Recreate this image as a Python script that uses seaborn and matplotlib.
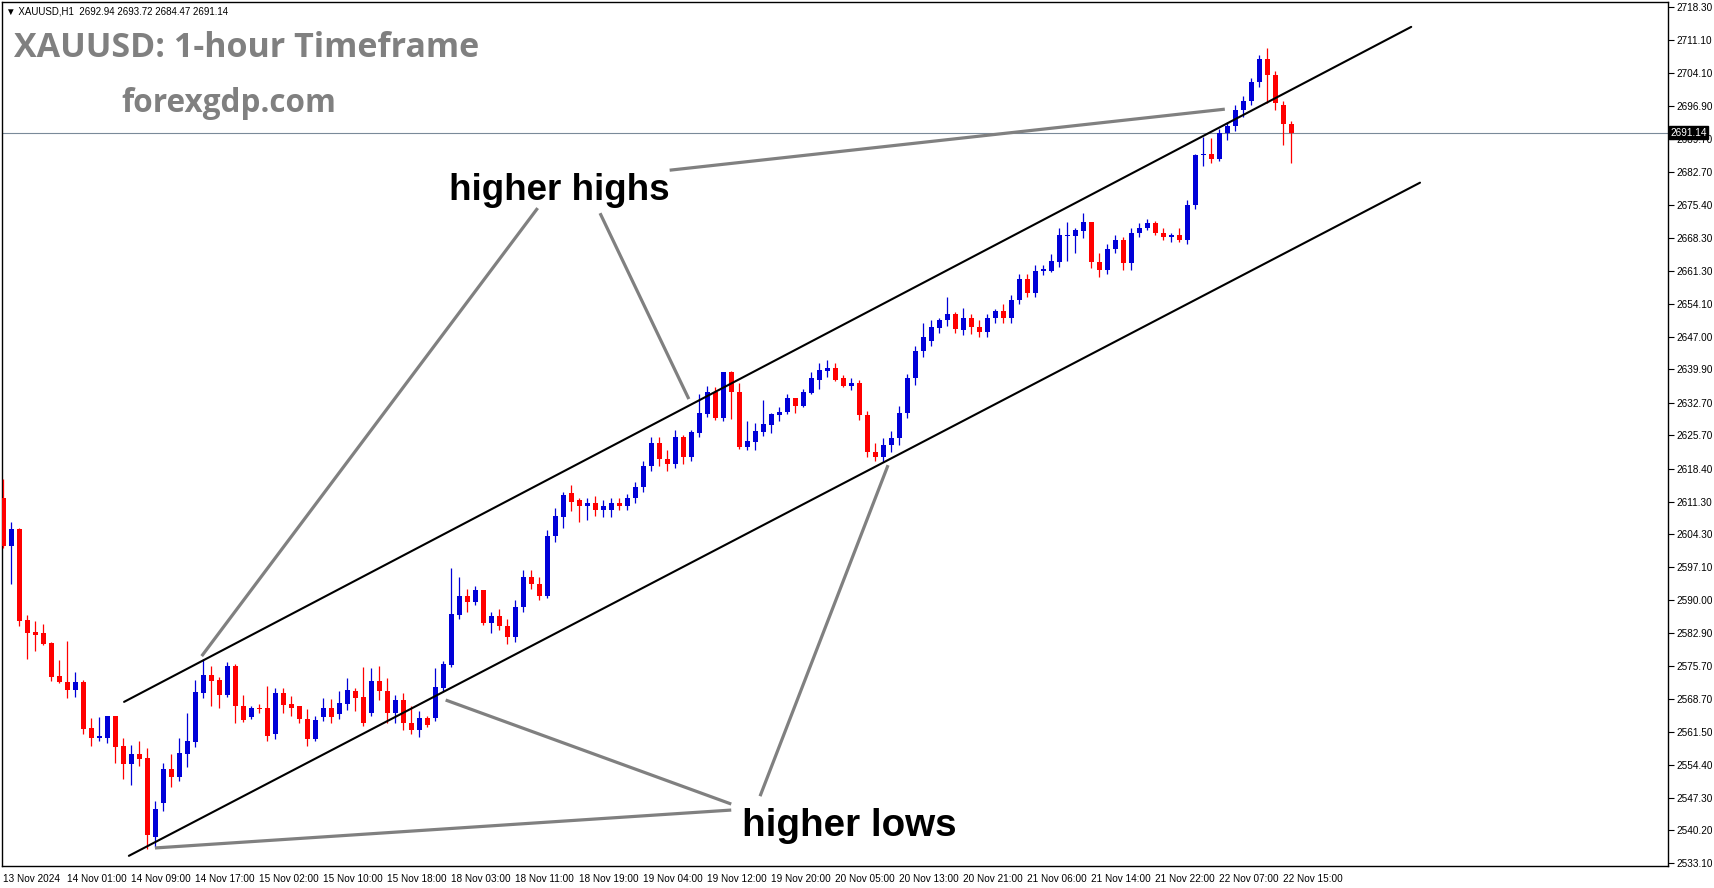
import numpy as np
import pandas as pd
import matplotlib
matplotlib.use("Agg")
import matplotlib.pyplot as plt
import matplotlib.transforms as mtransforms
import seaborn as sns

# ---------------- data (XAUUSD H1 candles) ----------------
opens = [
    2612.2, 2601.8, 2605.3, 2585.8, 2583.2, 2582.8, 2580.8, 2573.7, 2572.4, 2570.6,
    2572.4, 2562.4, 2560.2, 2560.2, 2565.0, 2558.5, 2554.6, 2556.8, 2555.9, 2538.8,
    2546.2, 2553.5, 2551.8, 2556.8, 2559.4, 2570.0, 2573.9, 2572.8, 2569.5, 2575.8,
    2567.2, 2564.8, 2566.7, 2566.7, 2561.1, 2570.0, 2567.6, 2567.0, 2564.3, 2560.0,
    2564.8, 2566.7, 2565.3, 2567.6, 2570.4, 2569.1, 2565.7, 2572.6, 2570.3, 2565.5,
    2568.5, 2563.5, 2562.0, 2564.5, 2564.6, 2571.1, 2576.0, 2586.7, 2591.0, 2589.7,
    2592.1, 2585.0, 2586.5, 2584.5, 2582.0, 2588.5, 2595.0, 2593.5, 2591.0, 2603.8,
    2607.9, 2613.1, 2611.6, 2610.3, 2611.1, 2609.6, 2609.6, 2611.0, 2610.3, 2612.0,
    2614.5, 2619.0, 2624.0, 2620.5, 2619.5, 2625.2, 2621.0, 2626.1, 2630.2, 2635.1,
    2629.3, 2639.3, 2635.1, 2623.2, 2624.3, 2626.3, 2627.8, 2630.0, 2630.6, 2633.8,
    2631.9, 2634.9, 2637.7, 2639.5, 2640.3, 2638.0, 2636.4, 2637.0, 2630.0, 2622.0,
    2621.0, 2623.5, 2625.0, 2630.5, 2638.0, 2644.0, 2646.0, 2648.8, 2650.5, 2651.8,
    2648.4, 2651.0, 2649.0, 2648.0, 2651.0, 2652.5, 2651.0, 2655.0, 2659.5, 2656.5,
    2661.3, 2661.3, 2663.1, 2668.7, 2668.7, 2669.8, 2671.7, 2663.1, 2661.5, 2666.0,
    2668.0, 2663.0, 2669.5, 2670.5, 2671.5, 2669.5, 2668.5, 2669.0, 2668.0, 2675.5,
    2686.2, 2686.5, 2685.5, 2691.0, 2692.5, 2696.0, 2698.0, 2702.0, 2707.0, 2703.5,
    2697.0, 2692.94,
]
highs = [
    2616.3, 2606.8, 2605.7, 2586.7, 2585.4, 2584.9, 2581.0, 2577.1, 2581.2, 2574.5,
    2572.8, 2564.6, 2564.8, 2565.0, 2565.0, 2560.2, 2558.7, 2559.6, 2558.1, 2546.6,
    2554.8, 2556.8, 2560.2, 2565.7, 2572.8, 2577.3, 2575.8, 2573.4, 2576.7, 2576.3,
    2569.5, 2567.2, 2567.6, 2571.5, 2570.9, 2571.1, 2569.3, 2567.2, 2566.5, 2565.0,
    2568.9, 2568.7, 2570.4, 2573.2, 2570.9, 2575.6, 2575.4, 2575.8, 2573.2, 2569.5,
    2570.0, 2567.0, 2566.0, 2565.0, 2575.4, 2576.9, 2597.0, 2595.1, 2592.5, 2593.0,
    2592.3, 2587.5, 2588.0, 2586.0, 2590.0, 2596.5, 2596.5, 2595.0, 2605.1, 2610.0,
    2613.3, 2615.0, 2612.0, 2612.0, 2612.6, 2611.6, 2612.0, 2612.0, 2613.0, 2615.5,
    2620.0, 2625.3, 2625.2, 2622.5, 2626.7, 2625.8, 2626.9, 2634.5, 2636.4, 2636.0,
    2639.3, 2639.5, 2636.9, 2628.7, 2628.4, 2633.2, 2630.4, 2631.7, 2634.7, 2633.8,
    2635.6, 2639.3, 2641.4, 2641.9, 2641.2, 2638.8, 2638.0, 2637.6, 2631.0, 2624.0,
    2625.0, 2626.5, 2632.0, 2639.0, 2645.0, 2650.0, 2650.5, 2651.0, 2655.5, 2652.3,
    2653.1, 2652.0, 2650.5, 2652.0, 2653.0, 2654.0, 2656.0, 2660.5, 2660.5, 2662.5,
    2662.4, 2664.8, 2670.4, 2671.7, 2670.4, 2673.7, 2671.7, 2665.0, 2667.0, 2669.0,
    2668.5, 2670.5, 2671.5, 2672.5, 2672.0, 2670.5, 2669.5, 2670.5, 2676.5, 2686.5,
    2690.1, 2690.0, 2692.0, 2693.5, 2697.0, 2699.0, 2703.0, 2708.0, 2709.5, 2704.5,
    2698.0, 2693.72,
]
lows = [
    2601.2, 2593.4, 2584.5, 2577.3, 2579.1, 2580.2, 2572.6, 2572.1, 2568.9, 2569.1,
    2561.1, 2558.5, 2559.6, 2559.0, 2554.8, 2551.4, 2550.1, 2554.2, 2536.2, 2536.6,
    2544.4, 2549.6, 2550.9, 2554.0, 2558.3, 2568.9, 2567.2, 2566.7, 2569.0, 2563.5,
    2563.7, 2564.3, 2565.7, 2559.6, 2560.0, 2565.7, 2565.0, 2563.5, 2558.5, 2559.5,
    2563.9, 2563.5, 2564.3, 2566.3, 2566.1, 2562.8, 2565.0, 2568.5, 2563.5, 2563.5,
    2562.0, 2561.0, 2560.5, 2562.5, 2563.8, 2570.4, 2575.5, 2586.0, 2587.5, 2589.0,
    2584.7, 2583.0, 2583.5, 2580.5, 2581.0, 2587.5, 2592.5, 2590.0, 2590.5, 2602.5,
    2605.7, 2609.2, 2607.0, 2607.4, 2608.1, 2607.9, 2608.0, 2609.5, 2609.5, 2611.0,
    2613.5, 2618.0, 2619.0, 2618.0, 2618.5, 2619.5, 2620.0, 2625.2, 2629.7, 2628.9,
    2628.7, 2629.1, 2622.6, 2622.4, 2622.4, 2625.4, 2626.1, 2628.7, 2630.2, 2630.4,
    2631.7, 2634.5, 2635.6, 2638.2, 2637.5, 2636.0, 2635.5, 2628.9, 2621.0, 2620.0,
    2619.8, 2622.0, 2623.5, 2629.5, 2636.5, 2642.5, 2645.0, 2647.7, 2649.2, 2647.7,
    2647.3, 2647.5, 2647.0, 2647.0, 2650.0, 2650.0, 2650.0, 2654.0, 2655.5, 2655.5,
    2660.3, 2660.9, 2662.0, 2663.3, 2665.0, 2668.3, 2661.8, 2660.0, 2660.5, 2665.0,
    2661.5, 2661.5, 2668.5, 2670.0, 2669.0, 2668.0, 2667.5, 2667.5, 2667.0, 2674.5,
    2684.0, 2684.5, 2685.0, 2689.5, 2691.5, 2694.5, 2697.0, 2701.0, 2697.5, 2696.0,
    2688.5, 2684.47,
]
closes = [
    2601.8, 2605.3, 2585.6, 2583.0, 2582.5, 2580.6, 2573.4, 2572.4, 2570.6, 2572.4,
    2562.2, 2560.2, 2560.7, 2565.0, 2558.3, 2554.6, 2556.8, 2555.7, 2539.2, 2544.9,
    2553.5, 2551.8, 2557.0, 2559.6, 2570.2, 2573.9, 2572.6, 2569.5, 2575.8, 2567.0,
    2564.1, 2566.7, 2566.5, 2560.7, 2570.0, 2567.4, 2566.7, 2564.3, 2560.0, 2564.0,
    2566.7, 2564.8, 2567.8, 2570.6, 2568.9, 2563.5, 2572.6, 2570.3, 2565.5, 2568.5,
    2563.5, 2562.0, 2564.5, 2563.0, 2571.3, 2576.3, 2586.9, 2591.0, 2589.7, 2592.1,
    2585.1, 2586.5, 2584.5, 2582.0, 2588.5, 2595.0, 2593.5, 2591.0, 2603.8, 2608.1,
    2612.8, 2611.3, 2610.3, 2611.1, 2609.6, 2610.3, 2611.0, 2610.3, 2612.0, 2614.5,
    2619.0, 2624.0, 2620.5, 2619.5, 2625.2, 2621.0, 2626.3, 2630.4, 2635.1, 2629.3,
    2639.3, 2635.1, 2623.2, 2624.5, 2626.5, 2628.0, 2630.2, 2630.8, 2633.8, 2631.9,
    2635.1, 2638.0, 2639.7, 2640.3, 2637.7, 2636.4, 2637.0, 2630.0, 2622.0, 2621.0,
    2623.5, 2625.0, 2630.5, 2638.0, 2644.0, 2647.0, 2649.0, 2650.7, 2651.8, 2648.6,
    2651.0, 2649.0, 2648.0, 2651.0, 2652.5, 2651.0, 2655.0, 2659.5, 2656.5, 2661.2,
    2661.6, 2663.3, 2668.9, 2668.9, 2670.0, 2671.7, 2663.1, 2661.5, 2666.0, 2668.0,
    2663.0, 2669.5, 2670.5, 2671.5, 2669.5, 2668.5, 2669.0, 2668.0, 2675.5, 2686.2,
    2686.5, 2685.5, 2691.0, 2692.5, 2696.0, 2698.0, 2702.0, 2707.0, 2703.5, 2697.5,
    2692.9, 2691.14,
]

time_labels = ["13 Nov 2024", "14 Nov 01:00", "14 Nov 09:00", "14 Nov 17:00",
               "15 Nov 02:00", "15 Nov 10:00", "15 Nov 18:00", "18 Nov 03:00",
               "18 Nov 11:00", "18 Nov 19:00", "19 Nov 04:00", "19 Nov 12:00",
               "19 Nov 20:00", "20 Nov 05:00", "20 Nov 13:00", "20 Nov 21:00",
               "21 Nov 06:00", "21 Nov 14:00", "21 Nov 22:00", "22 Nov 07:00",
               "22 Nov 15:00"]
time_label_bars = list(range(0, 161, 8))

price_ticks = [2718.30, 2711.10, 2704.10, 2696.90, 2689.70, 2682.70, 2675.40,
               2668.30, 2661.30, 2654.10, 2647.00, 2639.90, 2632.70, 2625.70,
               2618.40, 2611.30, 2604.30, 2597.10, 2590.00, 2582.90, 2575.70,
               2568.70, 2561.50, 2554.40, 2547.30, 2540.20, 2533.10]
last_price = 2691.14

# channel lines (bar index, price)
upper_x = [15.1, 176.0]
upper_y = [2568.0, 2714.0]
lower_x = [15.7, 177.1]
lower_y = [2534.7, 2680.3]

# annotation pointer lines: (x0, y0, x1, y1)
pointers = [
    (66.8, 2674.8, 24.8, 2577.9),
    (74.6, 2673.7, 85.7, 2633.5),
    (83.3, 2683.0, 152.7, 2696.2),
    (91.0, 2544.6, 18.96, 2536.4),
    (91.0, 2545.9, 55.3, 2568.4),
    (94.6, 2547.6, 110.6, 2619.2),
]

# ---------------- style ----------------
sns.set_style("white")
plt.rcParams["font.family"] = ["DejaVu Sans"]

BLUE = "#0000D8"
RED = "#FF0000"
GREY = "#808080"
SMALL = ["Liberation Sans Narrow", "Liberation Sans"]

W, H = 1714, 888
fig = plt.figure(figsize=(W / 100, H / 100), dpi=100)
ax = fig.add_axes([2 / W, 22 / H, 1666 / W, 864 / H])

df = pd.DataFrame({"bar": np.arange(len(opens)), "open": opens, "high": highs,
                   "low": lows, "close": closes})
df["bull"] = df["close"] >= df["open"]
cols = np.where(df["bull"], BLUE, RED)

# wicks
ax.vlines(df["bar"], df["low"], df["high"], colors=cols, lw=0.9, zorder=3)
# bodies
body_bottom = np.minimum(df["open"], df["close"])
body_h = np.maximum((df["close"] - df["open"]).abs(), 0.15)
ax.bar(df["bar"], body_h, bottom=body_bottom, width=0.62, color=cols, lw=0, zorder=4)

# channel lines
sns.lineplot(x=upper_x, y=upper_y, ax=ax, color="black", lw=1.5, zorder=5)
sns.lineplot(x=lower_x, y=lower_y, ax=ax, color="black", lw=1.5, zorder=5)

# pointers
for x0, y0, x1, y1 in pointers:
    ax.plot([x0, x1], [y0, y1], color=GREY, lw=2.3, solid_capstyle="butt", zorder=6)

# current price line
ax.axhline(last_price, color="#7A8A99", lw=0.8, zorder=2)

ax.set_xlim(-0.16, 208.1)
ax.set_ylim(2532.5, 2719.38)

for s in ax.spines.values():
    s.set_color("black")
    s.set_linewidth(1.0)

ax.yaxis.tick_right()
ax.set_yticks(price_ticks)
ax.set_yticklabels([f"{v:.2f}" for v in price_ticks])
ax.tick_params(axis="y", direction="out", length=4, width=0.8, pad=2,
               labelsize=7.2, colors="black")
for lab in ax.get_yticklabels():
    lab.set_family(SMALL)

ax.set_xticks(time_label_bars)
ax.set_xticklabels(time_labels)
ax.tick_params(axis="x", direction="out", length=4, width=0.8, pad=2,
               labelsize=7.2, colors="black")
for lab in ax.get_xticklabels():
    lab.set_horizontalalignment("left")
    lab.set_family(SMALL)

# current price tag
trans = mtransforms.blended_transform_factory(ax.transAxes, ax.transData)
ax.text(1.0015, last_price, "2691.14", transform=trans, ha="left", va="center",
        fontsize=7.2, color="white", family=SMALL,
        bbox=dict(boxstyle="square,pad=0.15", fc="black", ec="black"), zorder=10,
        clip_on=False)

# annotations
ax.text(55.7, 2676.5, "higher highs", fontsize=26.5, fontweight="bold",
        family=["Liberation Sans"], color="black", ha="left", va="baseline", zorder=7)
ax.text(92.3, 2539.0, "higher lows", fontsize=27.8, fontweight="bold",
        family=["Liberation Sans"], color="black", ha="left", va="baseline", zorder=7)

# header texts
fig.text(6 / W, 1 - 11 / H, "\u25bc XAUUSD,H1  2692.94 2693.72 2684.47 2691.14",
         fontsize=7, color="black", ha="left", va="center",
         family=SMALL + ["DejaVu Sans"])
fig.text(14 / W, 1 - 57 / H, "XAUUSD: 1-hour Timeframe", fontsize=24.5,
         fontweight="bold", color=GREY, family=["Open Sans"], ha="left", va="baseline")
fig.text(121 / W, 1 - 112 / H, "forexgdp.com", fontsize=22.7, fontweight="bold",
         color=GREY, family=["Open Sans"], ha="left", va="baseline")

fig.savefig("out.png", dpi=100)
